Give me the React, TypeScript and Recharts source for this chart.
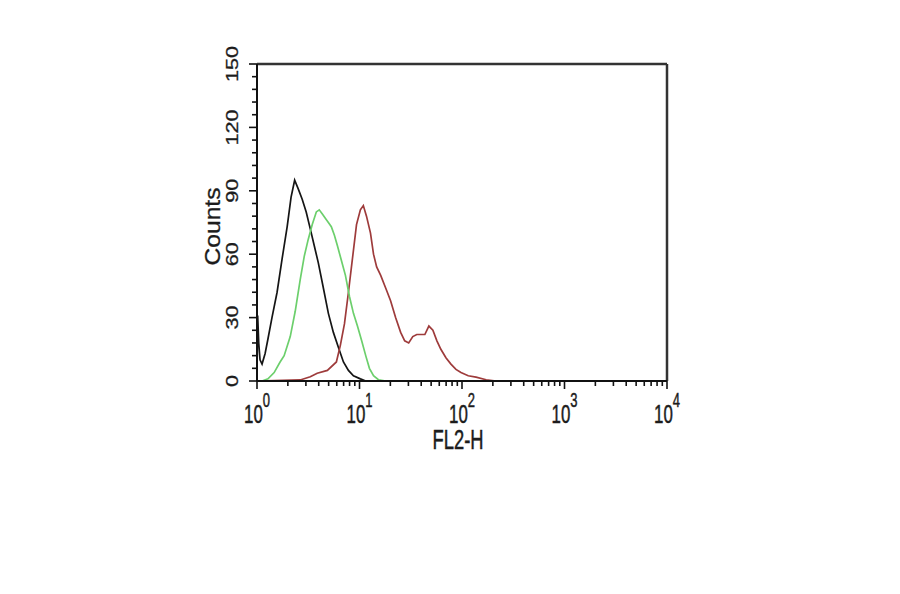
import React from "react";
import { LineChart, Line, XAxis, YAxis, ReferenceLine, Label } from "recharts";

// FL2-H intensity (x) and cell counts (y)
const blackFl2 = [1.0, 1.015, 1.04, 1.07, 1.12, 1.2, 1.28, 1.4, 1.57, 1.76, 1.97, 2.15, 2.33, 2.52, 2.76, 3.02, 3.31, 3.62, 3.96, 4.44, 4.97, 5.56, 6.22, 6.97, 7.8, 8.73, 10.2, 11.5];
const blackCounts = [2, 31, 18, 10, 8, 13, 20, 30, 42, 58, 73, 87, 95, 91, 86, 80, 72, 64, 56, 44, 32, 23, 16, 9, 5, 2.5, 1, 0];

const greenFl2 = [1.12, 1.28, 1.47, 1.68, 1.84, 2.11, 2.36, 2.64, 2.89, 3.16, 3.46, 3.79, 4.05, 4.34, 4.64, 4.97, 5.31, 5.69, 6.09, 6.66, 7.29, 7.98, 8.73, 9.55, 10.5, 11.5, 12.5, 13.7, 15.4, 18.0, 153];
const greenCounts = [0, 1, 4, 9, 12, 21, 33, 48, 59, 67, 74, 80, 81, 79, 77, 75, 73, 69, 64, 57, 50, 40, 32, 26, 19, 12, 6, 2.5, 0.5, 0, 0];

const redFl2 = [1.0, 2.64, 3.31, 3.87, 4.86, 5.95, 6.51, 7.13, 7.8, 8.54, 9.35, 10.2, 10.9, 11.7, 12.8, 13.7, 14.7, 16.1, 18.0, 20.1, 22.5, 25.2, 27.6, 30.2, 33.1, 36.2, 39.6, 43.4, 47.5, 52.0, 56.9, 62.2, 69.7, 78.0, 87.3, 97.7, 115, 137, 172, 215, 10000];
const redCounts = [0, 0.5, 2, 3.7, 5, 9, 17, 27, 42, 58, 74, 81, 83, 78, 70, 60, 54, 50, 44, 38, 30, 23, 19, 18, 21, 22, 22, 22, 26, 24, 19, 15, 11, 8, 5.5, 4, 2.5, 1.8, 0.6, 0, 0];

const decades = [1, 10, 100, 1000, 10000];
const decadeLabels = ["0", "1", "2", "3", "4"];
const xTicks = [1, 2, 3, 4, 5, 6, 7, 8, 9, 10, 20, 30, 40, 50, 60, 70, 80, 90, 100, 200, 300, 400, 500, 600, 700, 800, 900, 1000, 2000, 3000, 4000, 5000, 6000, 7000, 8000, 9000, 10000];
const yTicks = [0, 6, 12, 18, 24, 30, 36, 42, 48, 54, 60, 66, 72, 78, 84, 90, 96, 102, 108, 114, 120, 126, 132, 138, 144, 150];

const toPoints = (xs: number[], ys: number[]) => xs.map((x, i) => ({ x, y: ys[i] }));
const blackData = toPoints(blackFl2, blackCounts);
const greenData = toPoints(greenFl2, greenCounts);
const redData = toPoints(redFl2, redCounts);

const FONT = '"Liberation Sans", Arial, sans-serif';
const INK = "#1c1c1c";

const XTick = (props: any) => {
  const { x, y, payload } = props;
  const idx = decades.indexOf(payload.value);
  const major = idx >= 0;
  return (
    <g transform={`translate(${x},${y})`}>
      <line x1={0} y1={0} x2={0} y2={major ? 8 : 5} stroke="#111" strokeWidth={1.6} />
      {major && (
        <text x={0} y={42} textAnchor="middle" transform="scale(0.65,1)" fontFamily={FONT} fontSize={26} fill={INK} stroke={INK} strokeWidth={0.5}>
          10<tspan dy={-16} fontSize={20}>{decadeLabels[idx]}</tspan>
        </text>
      )}
    </g>
  );
};

const YTick = (props: any) => {
  const { x, y, payload } = props;
  const major = payload.value % 30 === 0;
  return (
    <g transform={`translate(${x},${y})`}>
      <line x1={0} y1={0} x2={major ? -8 : -5} y2={0} stroke="#111" strokeWidth={1.6} />
      {major && (
        <text transform="translate(-19,0) rotate(-90) scale(1.35,1)" textAnchor="middle" fontFamily={FONT} fontSize={16} fill={INK} stroke={INK} strokeWidth={0.3}>
          {payload.value}
        </text>
      )}
    </g>
  );
};

const XTitle = (props: any) => {
  const { x, y, width } = props.viewBox;
  return (
    <text transform={`translate(${x + width / 2 - 4},${y + 68}) scale(0.68,1)`} textAnchor="middle" fontFamily={FONT} fontSize={27} fill={INK} stroke={INK} strokeWidth={0.5}>
      FL2-H
    </text>
  );
};

const YTitle = (props: any) => {
  const { x, y, width, height } = props.viewBox;
  return (
    <text transform={`translate(${x + width - 37},${y + height / 2 + 4}) rotate(-90) scale(1.12,1)`} textAnchor="middle" fontFamily={FONT} fontSize={22} fill={INK} stroke={INK} strokeWidth={0.3}>
      Counts
    </text>
  );
};

export default function App() {
  return (
    <div style={{ position: "absolute", left: 0, top: 0, width: 900, height: 594, background: "#fff" }}>
      <LineChart width={900} height={594} margin={{ top: 64, right: 233, bottom: 153, left: 197 }}>
        <XAxis
          dataKey="x"
          type="number"
          scale="log"
          domain={[1, 10000]}
          allowDataOverflow
          ticks={xTicks}
          interval={0}
          tickSize={0}
          tickMargin={0}
          tick={<XTick />}
          height={60}
          axisLine={{ stroke: "#111", strokeWidth: 2 }}
        >
          <Label content={<XTitle />} />
        </XAxis>
        <YAxis
          type="number"
          domain={[0, 150]}
          ticks={yTicks}
          interval={0}
          tickSize={0}
          tickMargin={0}
          tick={<YTick />}
          width={60}
          axisLine={{ stroke: "#111", strokeWidth: 2 }}
        >
          <Label content={<YTitle />} />
        </YAxis>
        <ReferenceLine y={150} stroke="#333" strokeWidth={2.5} />
        <ReferenceLine x={10000} stroke="#333" strokeWidth={2.5} />
        <Line data={blackData} dataKey="y" type="linear" stroke="#151515" strokeWidth={1.7} dot={false} isAnimationActive={false} />
        <Line data={redData} dataKey="y" type="linear" stroke="#9e3b3b" strokeWidth={1.7} dot={false} isAnimationActive={false} />
        <Line data={greenData} dataKey="y" type="linear" stroke="#6ccf6c" strokeWidth={1.7} dot={false} isAnimationActive={false} />
      </LineChart>
    </div>
  );
}
